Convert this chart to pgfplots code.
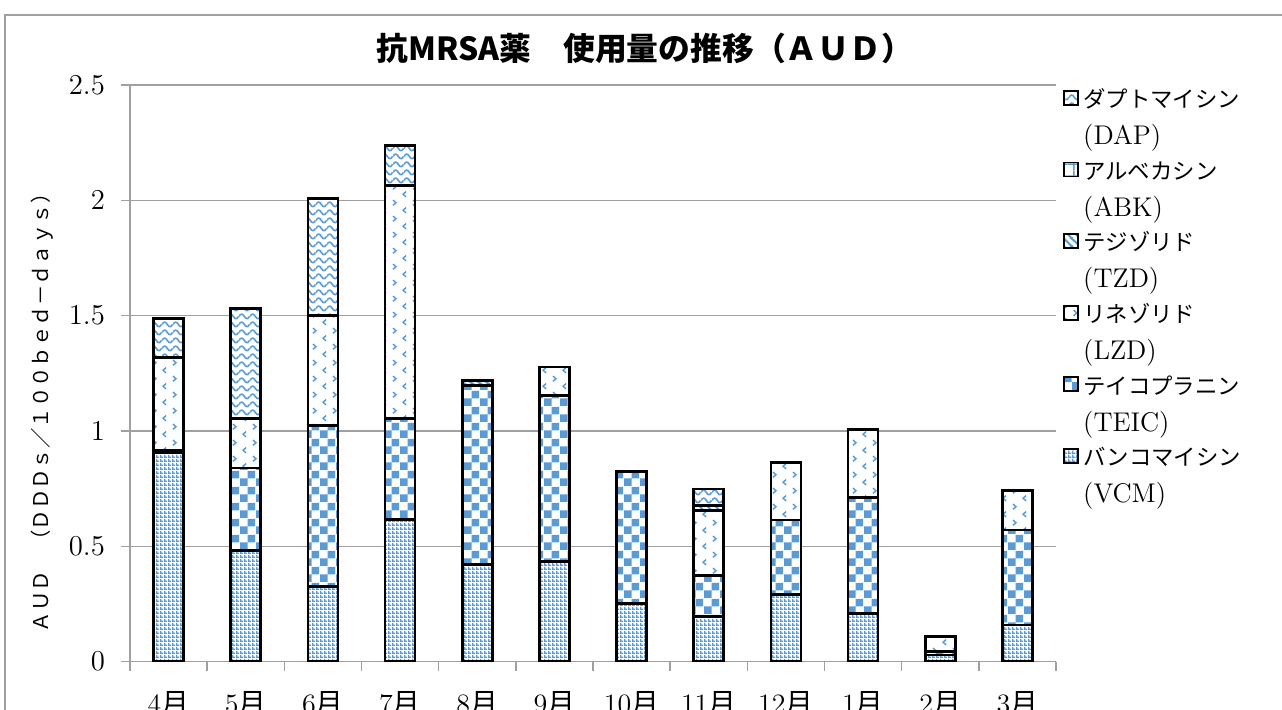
\documentclass[border=0pt]{standalone}
\usepackage{pgfplots}
\pgfplotsset{compat=1.18}
\usepackage{pgfplotstable}
\usepackage{fontspec}
\newfontfamily\jp{Noto Sans CJK JP}
\usetikzlibrary{patterns}
\definecolor{xblue}{RGB}{91,155,213}
\definecolor{gridgray}{RGB}{160,160,160}

\pgfdeclarepatternformonly{vcm}{\pgfpointorigin}{\pgfqpoint{2pt}{2pt}}{\pgfqpoint{2pt}{2pt}}{%
 \pgfpathrectangle{\pgfpointorigin}{\pgfqpoint{2pt}{0.8pt}}%
 \pgfpathrectangle{\pgfpointorigin}{\pgfqpoint{0.8pt}{2pt}}%
 \pgfusepath{fill}}
\pgfdeclarepatternformonly{teic}{\pgfpointorigin}{\pgfqpoint{8pt}{8pt}}{\pgfqpoint{8pt}{8pt}}{%
 \pgfpathrectangle{\pgfpointorigin}{\pgfqpoint{4pt}{4pt}}%
 \pgfpathrectangle{\pgfqpoint{4pt}{4pt}}{\pgfqpoint{4pt}{4pt}}%
 \pgfusepath{fill}}
\pgfdeclarepatternformonly{lzd}{\pgfpointorigin}{\pgfqpoint{10pt}{8pt}}{\pgfqpoint{10pt}{8pt}}{%
 \pgfsetlinewidth{0.75pt}%
 \pgfpathmoveto{\pgfqpoint{3.2pt}{3.4pt}}\pgfpathlineto{\pgfqpoint{1.6pt}{2pt}}\pgfpathlineto{\pgfqpoint{3.2pt}{0.6pt}}%
 \pgfpathmoveto{\pgfqpoint{6.8pt}{7.4pt}}\pgfpathlineto{\pgfqpoint{8.4pt}{6pt}}\pgfpathlineto{\pgfqpoint{6.8pt}{4.6pt}}%
 \pgfusepath{stroke}}
\pgfdeclarepatternformonly{dap}{\pgfpointorigin}{\pgfqpoint{5.4pt}{3.8pt}}{\pgfqpoint{5.4pt}{3.8pt}}{%
 \pgfsetlinewidth{0.8pt}%
 \pgfpathmoveto{\pgfqpoint{0pt}{1.9pt}}%
 \pgfpathcurveto{\pgfqpoint{0.9pt}{3.5pt}}{\pgfqpoint{1.8pt}{3.5pt}}{\pgfqpoint{2.7pt}{1.9pt}}%
 \pgfpathcurveto{\pgfqpoint{3.6pt}{0.3pt}}{\pgfqpoint{4.5pt}{0.3pt}}{\pgfqpoint{5.4pt}{1.9pt}}%
 \pgfusepath{stroke}}
\pgfdeclarepatternformonly{tzd}{\pgfpointorigin}{\pgfqpoint{4pt}{4pt}}{\pgfqpoint{4pt}{4pt}}{%
 \pgfsetlinewidth{1.1pt}%
 \pgfpathmoveto{\pgfqpoint{0pt}{4pt}}\pgfpathlineto{\pgfqpoint{4pt}{0pt}}%
 \pgfpathmoveto{\pgfqpoint{-1pt}{1pt}}\pgfpathlineto{\pgfqpoint{1pt}{-1pt}}%
 \pgfpathmoveto{\pgfqpoint{3pt}{5pt}}\pgfpathlineto{\pgfqpoint{5pt}{3pt}}%
 \pgfusepath{stroke}}
\pgfdeclarepatternformonly{abk}{\pgfpointorigin}{\pgfqpoint{6pt}{6pt}}{\pgfqpoint{6pt}{6pt}}{%
 \pgfpathrectangle{\pgfqpoint{2.6pt}{0pt}}{\pgfqpoint{0.8pt}{6pt}}%
 \pgfpathrectangle{\pgfqpoint{0pt}{2.6pt}}{\pgfqpoint{6pt}{0.8pt}}%
 \pgfusepath{fill}}

\newcommand\lj[1]{{\jp\fontsize{11.2}{18}\selectfont #1}}
\newcommand\lent[2]{\begin{tabular}[t]{@{}l@{}}\lj{#1}\\[0.5pt]{\fontsize{13.5}{18}\selectfont #2}\end{tabular}}

\pgfplotstableread{
x VCM TEIC LZD TZD ABK DAP
0 0.905 0.010 0.405 0 0 0.168
1 0.482 0.357 0.216 0 0 0.475
2 0.324 0.701 0.475 0 0 0.507
3 0.615 0.440 1.008 0 0 0.173
4 0.422 0.776 0 0.019 0 0
5 0.435 0.719 0.123 0 0 0
6 0.251 0.572 0 0 0 0
7 0.196 0.178 0.280 0.024 0 0.070
8 0.291 0.323 0.248 0 0 0
9 0.208 0.503 0.296 0 0 0
10 0.028 0.014 0.065 0 0 0
11 0.158 0.412 0.171 0 0 0
}\datatable

\begin{document}
\begin{tikzpicture}
\draw[gridgray, line width=0.75pt] (-62.5pt,-40pt) -- (-62.5pt,323.25pt) -- (600pt,323.25pt);
\begin{axis}[
  at={(0,0)}, anchor=south west,
  scale only axis, width=463pt, height=288.25pt,
  ybar stacked, bar width=15pt,
  xmin=-0.5, xmax=11.5, ymin=0, ymax=2.5,
  ytick={0,0.5,1,1.5,2,2.5},
  xtick={-0.5,0.5,1.5,2.5,3.5,4.5,5.5,6.5,7.5,8.5,9.5,10.5,11.5},
  x tick label as interval,
  xticklabels={4{\jp 月},5{\jp 月},6{\jp 月},7{\jp 月},8{\jp 月},9{\jp 月},10{\jp 月},11{\jp 月},12{\jp 月},1{\jp 月},2{\jp 月},3{\jp 月}},
  ymajorgrids, grid style={gridgray, line width=0.7pt},
  axis x line*=bottom, axis y line*=left,
  axis line style={gridgray, line width=0.7pt},
  tick align=outside, major tick length=4.5pt,
  tick style={gridgray, line width=0.7pt},
  xticklabel style={font=\fontsize{14}{14}\selectfont, anchor=north, yshift=-7pt},
  yticklabel style={font=\fontsize{15}{15}\selectfont, anchor=east, xshift=-4.5pt},
  title={\jp\bfseries 抗MRSA薬　使用量の推移（ＡＵＤ）},
  title style={at={(0.556,1.043)}, anchor=center, font=\fontsize{15.9}{16}\selectfont},
  ylabel={\jp ＡＵＤ　（ＤＤＤｓ／１００ｂｅｄ－ｄａｙｓ）},
  ylabel style={at={(axis description cs:-0.095,0.44)}, anchor=center, font=\fontsize{10.2}{12}\selectfont},
  reverse legend,
  legend cell align=left,
  legend style={at={(1.0076,1.0052)}, anchor=north west, draw=none, fill=none, inner sep=0pt,
    font=\fontsize{12}{18}\selectfont, row sep=21.7pt, nodes={inner ysep=0pt}},
  legend image code/.code={\draw[#1, line width=0.9pt] (0pt,-4.2pt) rectangle (7pt,2.8pt);},
  every axis plot/.append style={draw=black, line width=1.4pt, fill=white},
]
\addplot[postaction={pattern=vcm, pattern color=xblue}] table[x=x, y=VCM] {\datatable};
\addlegendentry{\lent{バンコマイシン}{(VCM)}}
\addplot[postaction={pattern=teic, pattern color=xblue}] table[x=x, y=TEIC] {\datatable};
\addlegendentry{\lent{テイコプラニン}{(TEIC)}}
\addplot[postaction={pattern=lzd, pattern color=xblue}] table[x=x, y=LZD] {\datatable};
\addlegendentry{\lent{リネゾリド}{(LZD)}}
\addplot[postaction={pattern=tzd, pattern color=xblue}] table[x=x, y=TZD] {\datatable};
\addlegendentry{\lent{テジゾリド}{(TZD)}}
\addplot[postaction={pattern=abk, pattern color=xblue}] table[x=x, y=ABK] {\datatable};
\addlegendentry{\lent{アルベカシン}{(ABK)}}
\addplot[postaction={pattern=dap, pattern color=xblue}] table[x=x, y=DAP] {\datatable};
\addlegendentry{\lent{ダプトマイシン}{(DAP)}}
\end{axis}
\pgfresetboundingbox
\path[use as bounding box] (-65pt,-23.75pt) rectangle (576pt,330.75pt);
\end{tikzpicture}
\end{document}
